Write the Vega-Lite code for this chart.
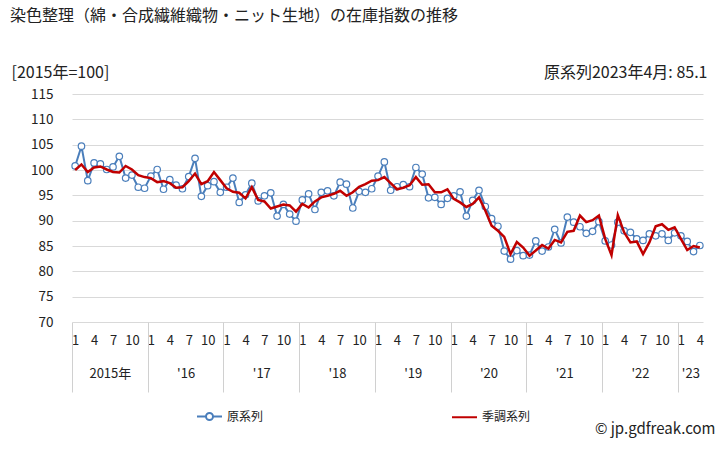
{
  "$schema": "https://vega.github.io/schema/vega-lite/v6.json",
  "width": 631,
  "height": 228,
  "autosize": {"type": "none"},
  "padding": {"left": 72, "top": 94, "right": 25, "bottom": 128},
  "background": "white",
  "config": {
    "font": "Noto Sans CJK JP",
    "view": {"stroke": null},
    "axis": {"labelColor": "#222222", "titleColor": "#222222", "titleFontWeight": "normal"},
    "legend": {"labelColor": "#222222"}
  },
  "title": {
    "text": "染色整理（綿・合成繊維織物・ニット生地）の在庫指数の推移",
    "anchor": "start",
    "frame": "group",
    "dx": -62,
    "offset": 40,
    "fontSize": 16,
    "fontWeight": "normal",
    "color": "#222222"
  },
  "data": {
    "values": [
      {"i": 0, "原系列": 100.8, "季調系列": 100.0},
      {"i": 1, "原系列": 104.7, "季調系列": 101.1},
      {"i": 2, "原系列": 97.9, "季調系列": 99.6},
      {"i": 3, "原系列": 101.4, "季調系列": 100.5},
      {"i": 4, "原系列": 101.2, "季調系列": 100.7},
      {"i": 5, "原系列": 100.1, "季調系列": 100.1},
      {"i": 6, "原系列": 100.6, "季調系列": 99.6},
      {"i": 7, "原系列": 102.7, "季調系列": 99.5},
      {"i": 8, "原系列": 98.4, "季調系列": 100.8},
      {"i": 9, "原系列": 99.0, "季調系列": 100.1},
      {"i": 10, "原系列": 96.6, "季調系列": 99.0},
      {"i": 11, "原系列": 96.4, "季調系列": 98.6},
      {"i": 12, "原系列": 98.8, "季調系列": 98.4},
      {"i": 13, "原系列": 100.1, "季調系列": 97.6},
      {"i": 14, "原系列": 96.2, "季調系列": 97.8},
      {"i": 15, "原系列": 98.1, "季調系列": 97.4},
      {"i": 16, "原系列": 97.0, "季調系列": 96.5},
      {"i": 17, "原系列": 96.3, "季調系列": 96.6},
      {"i": 18, "原系列": 98.7, "季調系列": 97.8},
      {"i": 19, "原系列": 102.3, "季調系列": 99.3},
      {"i": 20, "原系列": 94.8, "季調系列": 97.2},
      {"i": 21, "原系列": 96.9, "季調系列": 97.8},
      {"i": 22, "原系列": 97.7, "季調系列": 99.6},
      {"i": 23, "原系列": 95.6, "季調系列": 98.0},
      {"i": 24, "原系列": 96.6, "季調系列": 96.4},
      {"i": 25, "原系列": 98.4, "季調系列": 95.7},
      {"i": 26, "原系列": 93.6, "季調系列": 95.5},
      {"i": 27, "原系列": 95.1, "季調系列": 94.4},
      {"i": 28, "原系列": 97.4, "季調系列": 96.6},
      {"i": 29, "原系列": 93.9, "季調系列": 94.1},
      {"i": 30, "原系列": 94.9, "季調系列": 93.8},
      {"i": 31, "原系列": 95.5, "季調系列": 92.4},
      {"i": 32, "原系列": 90.9, "季調系列": 92.8},
      {"i": 33, "原系列": 93.2, "季調系列": 93.2},
      {"i": 34, "原系列": 91.3, "季調系列": 93.0},
      {"i": 35, "原系列": 89.9, "季調系列": 91.8},
      {"i": 36, "原系列": 94.1, "季調系列": 93.3},
      {"i": 37, "原系列": 95.3, "季調系列": 92.6},
      {"i": 38, "原系列": 92.2, "季調系列": 93.8},
      {"i": 39, "原系列": 95.6, "季調系列": 94.6},
      {"i": 40, "原系列": 95.9, "季調系列": 94.9},
      {"i": 41, "原系列": 94.9, "季調系列": 95.3},
      {"i": 42, "原系列": 97.6, "季調系列": 95.9},
      {"i": 43, "原系列": 97.2, "季調系列": 94.9},
      {"i": 44, "原系列": 92.5, "季調系列": 95.6},
      {"i": 45, "原系列": 95.8, "季調系列": 96.7},
      {"i": 46, "原系列": 95.6, "季調系列": 97.2},
      {"i": 47, "原系列": 96.3, "季調系列": 97.9},
      {"i": 48, "原系列": 98.8, "季調系列": 98.0},
      {"i": 49, "原系列": 101.6, "季調系列": 98.6},
      {"i": 50, "原系列": 96.0, "季調系列": 97.4},
      {"i": 51, "原系列": 96.7, "季調系列": 96.2},
      {"i": 52, "原系列": 97.1, "季調系列": 96.5},
      {"i": 53, "原系列": 96.7, "季調系列": 97.0},
      {"i": 54, "原系列": 100.5, "季調系列": 98.6},
      {"i": 55, "原系列": 99.2, "季調系列": 97.1},
      {"i": 56, "原系列": 94.5, "季調系列": 97.2},
      {"i": 57, "原系列": 94.6, "季調系列": 95.6},
      {"i": 58, "原系列": 93.2, "季調系列": 95.6},
      {"i": 59, "原系列": 94.4, "季調系列": 96.2},
      {"i": 60, "原系列": 94.9, "季調系列": 94.3},
      {"i": 61, "原系列": 95.7, "季調系列": 93.6},
      {"i": 62, "原系列": 90.9, "季調系列": 92.7},
      {"i": 63, "原系列": 94.0, "季調系列": 93.3},
      {"i": 64, "原系列": 96.0, "季調系列": 94.6},
      {"i": 65, "原系列": 92.8, "季調系列": 92.0},
      {"i": 66, "原系列": 90.4, "季調系列": 89.0},
      {"i": 67, "原系列": 88.9, "季調系列": 88.0},
      {"i": 68, "原系列": 84.0, "季調系列": 86.8},
      {"i": 69, "原系列": 82.4, "季調系列": 83.4},
      {"i": 70, "原系列": 84.1, "季調系列": 85.8},
      {"i": 71, "原系列": 83.1, "季調系列": 84.7},
      {"i": 72, "原系列": 83.2, "季調系列": 83.1},
      {"i": 73, "原系列": 86.0, "季調系列": 84.1},
      {"i": 74, "原系列": 84.0, "季調系列": 85.2},
      {"i": 75, "原系列": 84.8, "季調系列": 84.5},
      {"i": 76, "原系列": 88.3, "季調系列": 86.2},
      {"i": 77, "原系列": 85.6, "季調系列": 85.7},
      {"i": 78, "原系列": 90.7, "季調系列": 87.8},
      {"i": 79, "原系列": 89.7, "季調系列": 88.0},
      {"i": 80, "原系列": 88.8, "季調系列": 91.0},
      {"i": 81, "原系列": 87.5, "季調系列": 89.7},
      {"i": 82, "原系列": 87.9, "季調系列": 90.1},
      {"i": 83, "原系列": 89.8, "季調系列": 91.0},
      {"i": 84, "原系列": 86.0, "季調系列": 86.4},
      {"i": 85, "原系列": 85.2, "季調系列": 83.2},
      {"i": 86, "原系列": 89.7, "季調系列": 91.1},
      {"i": 87, "原系列": 88.0, "季調系列": 87.7},
      {"i": 88, "原系列": 87.7, "季調系列": 85.7},
      {"i": 89, "原系列": 86.4, "季調系列": 85.9},
      {"i": 90, "原系列": 86.1, "季調系列": 83.4},
      {"i": 91, "原系列": 87.4, "季調系列": 85.7},
      {"i": 92, "原系列": 87.0, "季調系列": 88.9},
      {"i": 93, "原系列": 87.4, "季調系列": 89.3},
      {"i": 94, "原系列": 86.1, "季調系列": 88.2},
      {"i": 95, "原系列": 87.6, "季調系列": 88.7},
      {"i": 96, "原系列": 87.0, "季調系列": 86.4},
      {"i": 97, "原系列": 85.9, "季調系列": 84.2},
      {"i": 98, "原系列": 83.9, "季調系列": 85.0},
      {"i": 99, "原系列": 85.1, "季調系列": 84.7}
    ]
  },
  "layer": [
    {
      "mark": {"type": "line", "color": "#4a7ebb", "strokeWidth": 2},
      "encoding": {
        "x": {
          "field": "i", "type": "quantitative",
          "scale": {"domain": [-0.5, 99.5], "nice": false, "zero": false},
          "axis": {
            "orient": "bottom",
            "values": [0, 3, 6, 9, 12, 15, 18, 21, 24, 27, 30, 33, 36, 39, 42, 45, 48, 51, 54, 57, 60, 63, 66, 69, 72, 75, 78, 81, 84, 87, 90, 93, 96, 99],
            "labelExpr": "'' + (datum.value % 12 + 1)",
            "ticks": false, "domain": false, "grid": false,
            "labelPadding": 12, "labelFontSize": 13,
            "labelFlush": false, "labelOverlap": false,
            "title": null
          }
        },
        "y": {
          "field": "原系列", "type": "quantitative",
          "scale": {"domain": [70, 115], "nice": false, "zero": false},
          "axis": {
            "orient": "left",
            "values": [70, 75, 80, 85, 90, 95, 100, 105, 110, 115],
            "grid": true, "gridColor": "#d9d9d9", "gridWidth": 1,
            "ticks": false, "domain": false,
            "labelPadding": 19, "labelFontSize": 13.5,
            "title": "[2015年=100]",
            "titleAngle": 0, "titleX": -61, "titleY": -22,
            "titleAlign": "left", "titleBaseline": "middle",
            "titleFontSize": 16
          }
        }
      }
    },
    {
      "mark": {"type": "point", "shape": "circle", "filled": true, "fill": "white", "stroke": "#4a7ebb", "strokeWidth": 1.2, "size": 42, "opacity": 1},
      "encoding": {
        "x": {"field": "i", "type": "quantitative", "scale": {"domain": [-0.5, 99.5], "nice": false, "zero": false}, "axis": null},
        "y": {"field": "原系列", "type": "quantitative", "scale": {"domain": [70, 115], "nice": false, "zero": false}, "axis": null}
      }
    },
    {
      "mark": {"type": "line", "color": "#c00000", "strokeWidth": 2.5},
      "encoding": {
        "x": {"field": "i", "type": "quantitative", "scale": {"domain": [-0.5, 99.5], "nice": false, "zero": false}, "axis": null},
        "y": {"field": "季調系列", "type": "quantitative", "scale": {"domain": [70, 115], "nice": false, "zero": false}, "axis": null}
      }
    },
    {
      "transform": [{"fold": ["原系列", "季調系列"], "as": ["系列", "値"]}],
      "mark": {"type": "point", "filled": false, "opacity": 0},
      "encoding": {
        "x": {"field": "i", "type": "quantitative", "scale": {"domain": [-0.5, 99.5], "nice": false, "zero": false}, "axis": null},
        "y": {"field": "値", "type": "quantitative", "scale": {"domain": [70, 115], "nice": false, "zero": false}, "axis": null},
        "color": {
          "field": "系列", "type": "nominal",
          "scale": {"domain": ["原系列", "季調系列"], "range": ["#4a7ebb", "#c00000"]},
          "legend": {
            "title": null, "orient": "none", "legendX": 124, "legendY": 309,
            "direction": "horizontal", "columns": 2, "columnPadding": 184,
            "symbolSize": 625, "symbolStrokeWidth": 2, "labelFontSize": 12,
            "labelOffset": 4, "padding": 0, "symbolFillColor": "transparent"
          }
        },
        "shape": {
          "field": "系列", "type": "nominal",
          "scale": {"domain": ["原系列", "季調系列"], "range": ["M-1,0L-0.28,0M0.28,0L1,0M0.28,0A0.28,0.28 0 1 1 -0.28,0A0.28,0.28 0 1 1 0.28,0", "M-1,0L1,0"]},
          "legend": {
            "title": null, "orient": "none", "legendX": 124, "legendY": 309,
            "direction": "horizontal", "columns": 2, "columnPadding": 184,
            "symbolSize": 625, "symbolStrokeWidth": 2, "labelFontSize": 12,
            "labelOffset": 4, "padding": 0, "symbolFillColor": "transparent"
          }
        }
      }
    },
    {
      "mark": {"type": "point", "opacity": 0},
      "encoding": {
        "x": {
          "field": "i", "type": "quantitative",
          "scale": {"domain": [-0.5, 99.5], "nice": false, "zero": false},
          "axis": {
            "orient": "bottom",
            "values": [-0.5, 11.5, 23.5, 35.5, 47.5, 59.5, 71.5, 83.5, 95.5],
            "labels": false, "ticks": true, "tickSize": 70, "tickColor": "#d0d0d0", "tickWidth": 1,
            "domain": false, "grid": false, "title": null
          }
        },
        "y": {
          "field": "原系列", "type": "quantitative",
          "scale": {"domain": [70, 115], "nice": false, "zero": false},
          "axis": {
            "orient": "right",
            "labels": false, "ticks": false, "domain": false, "grid": false,
            "title": "原系列2023年4月: 85.1",
            "titleAngle": 0, "titleAlign": "right", "titleBaseline": "middle",
            "titleX": 4, "titleY": -22, "titleFontSize": 16
          }
        }
      }
    },
    {
      "mark": {"type": "point", "opacity": 0},
      "encoding": {
        "x": {
          "field": "i", "type": "quantitative",
          "scale": {"domain": [-0.5, 99.5], "nice": false, "zero": false},
          "axis": {
            "orient": "bottom",
            "values": [5.5, 17.5, 29.5, 41.5, 53.5, 65.5, 77.5, 89.5, 97.5],
            "labelExpr": "[\"2015年\", \"'16\", \"'17\", \"'18\", \"'19\", \"'20\", \"'21\", \"'22\", \"'23\"][floor(datum.value / 12)]",
            "ticks": false, "domain": false, "grid": false,
            "labelPadding": 45, "labelFontSize": 13,
            "labelFlush": false, "labelOverlap": false,
            "title": "© jp.gdfreak.com",
            "titleX": 643, "titleY": 106, "titleAlign": "right", "titleBaseline": "middle",
            "titleFontSize": 15
          }
        },
        "y": {"field": "原系列", "type": "quantitative", "scale": {"domain": [70, 115], "nice": false, "zero": false}, "axis": null}
      }
    }
  ],
  "resolve": {"scale": {"x": "independent", "y": "independent", "color": "independent", "shape": "independent"}}
}
